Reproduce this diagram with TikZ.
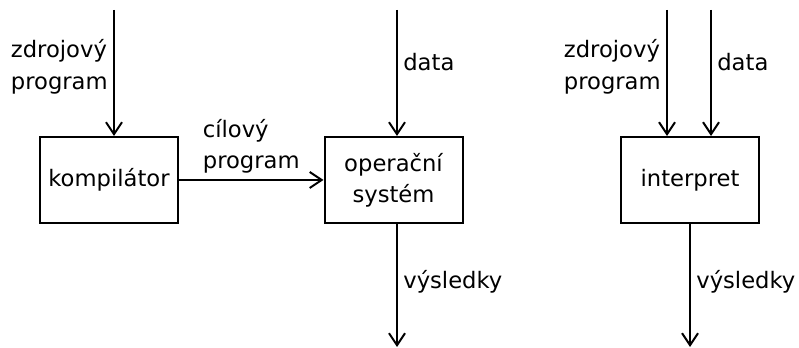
\documentclass[tikz,border=0pt]{standalone}
\usepackage{fontspec}
\setmainfont{DejaVu Sans}
\usetikzlibrary{arrows.meta,positioning}

\begin{document}
\begin{tikzpicture}[
  x=0.75pt, y=0.75pt,
  font=\fontsize{17}{23.5}\selectfont,
  box/.style={draw, line width=1.5pt, minimum width=103.5pt, minimum height=64.5pt,
              inner sep=0pt, align=center},
  arr/.style={-{Straight Barb[length=9pt,width=12pt]}, line width=1.5pt},
  lbl/.style={align=left, inner sep=4pt}
]
\useasboundingbox (0,0) rectangle (799,348);
\node[box] (komp) at (109,168) {kompilátor};
\node[box] (os) at (393.5,168) {operační\\systém};
\node[box] (interp) at (690,168) {interpret};
% konce sipek
\coordinate (zdroj) at (114,338);
\coordinate (data) at (397,338);
\coordinate (izdroj) at (667,338);
\coordinate (idata) at (711,338);
\coordinate (vys) at (397,1);
\coordinate (ivys) at (690,1);
\draw[arr] (zdroj) -- (zdroj |- komp.north) node[lbl, pos=0.45, left] {zdrojový\\program};
\draw[arr] (data) -- (data |- os.north) node[lbl, pos=0.41, right] {data};
\draw[arr] (komp.east) -- (os.west) node[lbl, midway, above] {cílový\\program};
\draw[arr] (os.south -| vys) -- (vys) node[lbl, pos=0.47, right] {výsledky};
\draw[arr] (izdroj) -- (izdroj |- interp.north) node[lbl, pos=0.45, left] {zdrojový\\program};
\draw[arr] (idata) -- (idata |- interp.north) node[lbl, pos=0.41, right] {data};
\draw[arr] (interp.south -| ivys) -- (ivys) node[lbl, pos=0.47, right] {výsledky};
\end{tikzpicture}
\end{document}
